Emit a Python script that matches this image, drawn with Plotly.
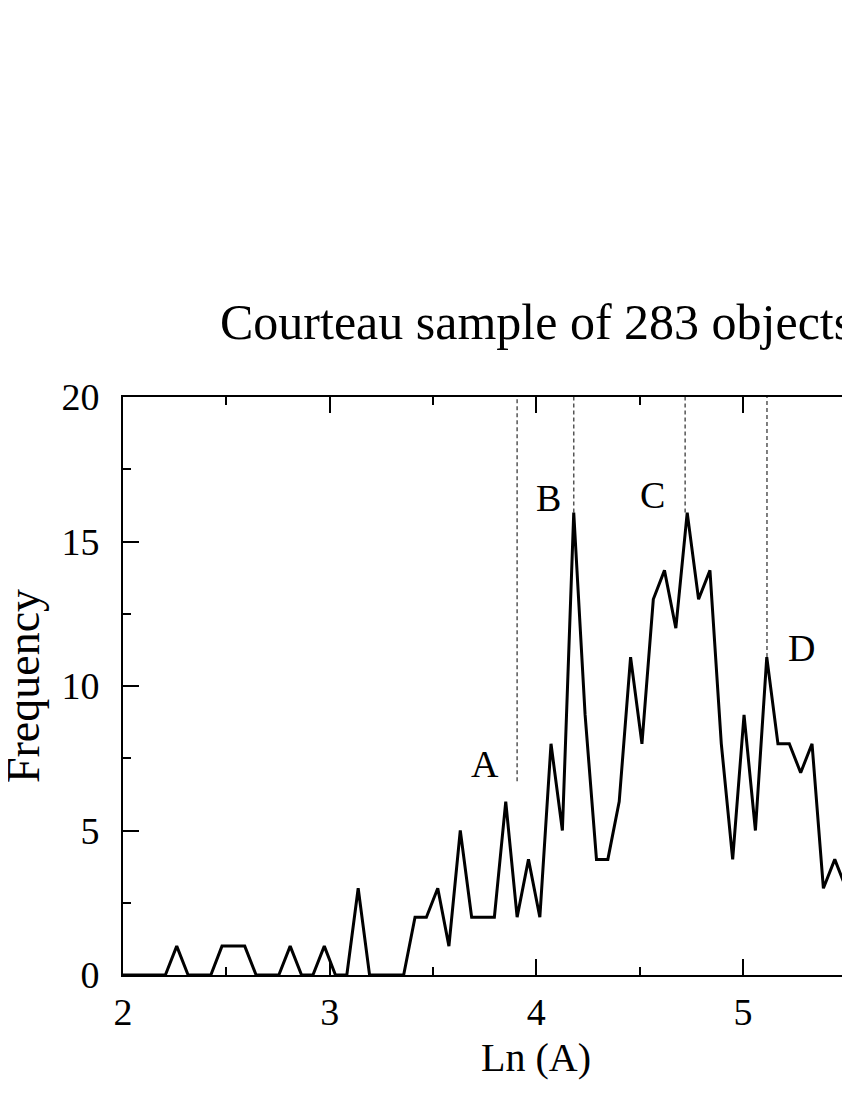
import plotly.graph_objects as go

# bin centres of Ln(A) and counts per bin
ln_a = [1.985, 2.040, 2.095, 2.150, 2.205, 2.260, 2.315, 2.370, 2.425, 2.479,
        2.534, 2.589, 2.644, 2.699, 2.754, 2.809, 2.864, 2.919, 2.974, 3.028,
        3.083, 3.138, 3.193, 3.248, 3.303, 3.358, 3.413, 3.468, 3.523, 3.577,
        3.632, 3.687, 3.742, 3.797, 3.852, 3.907, 3.962, 4.017, 4.071, 4.126,
        4.181, 4.236, 4.291, 4.346, 4.401, 4.456, 4.511, 4.566, 4.620, 4.675,
        4.730, 4.785, 4.840, 4.895, 4.950, 5.005, 5.060, 5.115, 5.169, 5.224,
        5.279, 5.334, 5.389, 5.444, 5.499, 5.554]
freq = [0, 0, 0, 0, 0, 1, 0, 0, 0, 1,
        1, 1, 0, 0, 0, 1, 0, 0, 1, 0,
        0, 3, 0, 0, 0, 0, 2, 2, 3, 1,
        5, 2, 2, 2, 6, 2, 4, 2, 8, 5,
        16, 9, 4, 4, 6, 11, 8, 13, 14, 12,
        16, 13, 14, 8, 4, 9, 5, 11, 8, 8,
        7, 8, 3, 4, 3, 0]

# peak markers (dashed) and their labels
peak_names = ["A", "B", "C", "D"]
peak_x = [3.907, 4.181, 4.72, 5.116]
peak_y = [6.7, 16, 16, 11]
label_x = [3.75, 4.06, 4.56, 5.285]
label_y = [7.3, 16.5, 16.6, 11.3]

FONT = "Liberation Serif, Times New Roman, serif"

fig = go.Figure()

for px, py in zip(peak_x, peak_y):
    fig.add_trace(go.Scatter(
        x=[px, px], y=[py, 20], mode="lines",
        line=dict(color="#555555", width=1.5, dash="4px,3px"),
        showlegend=False, hoverinfo="skip",
    ))

fig.add_trace(go.Scatter(
    x=ln_a, y=freq, mode="lines",
    line=dict(color="black", width=3),
    showlegend=False,
))

for name, lx, ly in zip(peak_names, label_x, label_y):
    fig.add_annotation(x=lx, y=ly, text=name, showarrow=False,
                       xanchor="center", yanchor="middle",
                       font=dict(family=FONT, size=38, color="black"))

# title and axis titles placed by hand (plot is cropped on the right)
fig.add_annotation(x=4, y=1.13, xref="x", yref="paper",
                   xanchor="center", yanchor="middle",
                   text="Courteau sample of 283 objects", showarrow=False,
                   font=dict(family=FONT, size=50, color="black"))
fig.add_annotation(x=4, y=-0.142, xref="x", yref="paper", text="Ln (A)",
                   xanchor="center", yanchor="middle",
                   showarrow=False, font=dict(family=FONT, size=40, color="black"))
fig.add_annotation(x=-0.139, y=0.5, xref="paper", yref="paper", text="Frequency",
                   xanchor="center", yanchor="middle",
                   textangle=-90, showarrow=False,
                   font=dict(family=FONT, size=46, color="black"))

# page body has an 8px margin on every side; keep the figure inside it
fig.update_layout(
    width=834, height=1084,
    margin=dict(l=115, r=0, t=389, b=117),
    plot_bgcolor="white", paper_bgcolor="white",
    font=dict(family=FONT, size=38, color="black"),
    showlegend=False,
)
fig.update_xaxes(
    range=[2, 5.479], showgrid=False, zeroline=False,
    showline=True, linecolor="black", linewidth=2, mirror="ticks",
    ticks="inside", ticklen=16, tickwidth=1.5, tickcolor="black", dtick=1,
    minor=dict(dtick=0.5, ticks="inside", ticklen=8, tickwidth=1.5, tickcolor="black"),
    tickfont=dict(family=FONT, size=38), ticklabelstandoff=2,
)
fig.update_yaxes(
    range=[0, 20], showgrid=False, zeroline=False,
    showline=True, linecolor="black", linewidth=2,
    ticks="inside", ticklen=16, tickwidth=1.5, tickcolor="black", dtick=5,
    minor=dict(dtick=2.5, ticks="inside", ticklen=8, tickwidth=1.5, tickcolor="black"),
    tickfont=dict(family=FONT, size=38), ticklabelstandoff=14,
)

fig.write_html("out.html")
